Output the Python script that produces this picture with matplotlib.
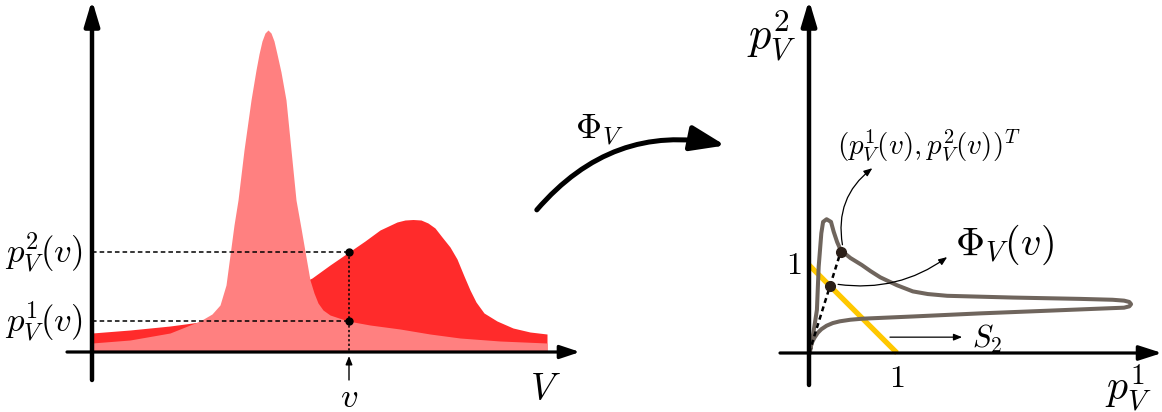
import matplotlib
matplotlib.use('Agg')
import matplotlib.pyplot as plt
from matplotlib.patches import FancyArrowPatch

plt.rcParams['mathtext.fontset'] = 'cm'

# ---- left panel: two densities over V (units: px offset from origin)
pink_x = [0, 38, 78, 108, 120, 128, 134, 138, 142, 146, 152, 159, 164, 167, 170, 173,
          176, 179, 182, 185, 189, 194, 199, 204, 209, 214, 218, 222, 226, 231, 238,
          256, 278, 308, 338, 368, 408, 455]
pink_y = [9, 12, 19, 31, 38, 47, 67, 97, 127, 152, 202, 252, 282, 298, 311, 319,
          322, 319, 311, 298, 280, 252, 202, 152, 124, 95, 72, 59, 49, 42, 37,
          31, 27, 23, 18, 14, 11, 9]

red_x = [0, 38, 78, 108, 148, 188, 220, 238, 257, 273, 288, 305, 313, 321, 329, 336,
         343, 350, 358, 365, 372, 378, 384, 392, 405, 421, 438, 455]
red_y = [19, 22, 26, 30, 41, 59, 74, 87, 100, 111, 122, 130, 132, 132.5, 132, 129,
         124, 115, 105, 93, 76, 62, 50, 39, 31, 24, 20, 18]

v_pos = 257
p1_v = 31
p2_v = 100

# ---- right panel: image of V under Phi_V (units: 1 = tick "1")
loop_x = [0.01, 0.05, 0.09, 0.11, 0.14, 0.16, 0.20, 0.25, 0.28, 0.32, 0.36, 0.47,
          0.60, 0.70, 0.81, 1.00, 1.18, 1.35, 1.57, 2.32, 3.08, 3.45, 3.58, 3.64,
          3.66, 3.64, 3.58, 3.45, 2.70, 1.94, 1.18, 0.61, 0.47, 0.35, 0.27, 0.20,
          0.14, 0.10, 0.06, 0.03, 0.01]
loop_y = [0.01, 0.23, 0.49, 0.98, 1.36, 1.49, 1.52, 1.49, 1.38, 1.26, 1.17, 1.08,
          1.00, 0.93, 0.86, 0.77, 0.70, 0.67, 0.65, 0.63, 0.615, 0.605, 0.595, 0.58,
          0.555, 0.53, 0.515, 0.51, 0.48, 0.45, 0.415, 0.39, 0.378, 0.36, 0.34, 0.31,
          0.27, 0.23, 0.17, 0.11, 0.03]
phi_pt = (0.36, 1.15)
simplex_pt = (0.24, 0.76)
simplex_x = [0, 1]
simplex_y = [1, 0]

W, H = 1162, 412
fig = plt.figure(figsize=(W / 100, H / 100), dpi=100)

ax1 = fig.add_axes([0, 0, 1, 1])
ax1.set_xlim(-92, W - 92)
ax1.set_ylim(352 - H, 352)
ax1.axis('off')

ax2 = fig.add_axes([0, 0, 1, 1])
ax2.patch.set_alpha(0)
ax2.set_xlim(-809 / 88, (W - 809) / 88)
ax2.set_ylim(-(H - 353) / 88, 353 / 88)
ax2.axis('off')

# densities
ax1.fill_between(red_x, red_y, 0, color='#ff2b2b', lw=0, zorder=1)
ax1.fill_between(pink_x, pink_y, 0, color='#ff8080', lw=0, zorder=2)

# axes with arrows
ax1.annotate('', xy=(0, 352), xytext=(0, -28),
             arrowprops=dict(arrowstyle='-|>,head_length=1.5,head_width=0.45', lw=3.2,
                             color='k', shrinkA=0, shrinkB=0, mutation_scale=10), zorder=5)
ax1.annotate('', xy=(488, 0), xytext=(-25, 0),
             arrowprops=dict(arrowstyle='-|>,head_length=1.2,head_width=0.4', lw=2.3,
                             color='k', shrinkA=0, shrinkB=0, mutation_scale=10), zorder=5)

# guides at v
ax1.plot([0, v_pos], [p2_v, p2_v], color='k', lw=1.1, dashes=(3, 2), zorder=3)
ax1.plot([0, v_pos], [p1_v, p1_v], color='k', lw=1.1, dashes=(3, 2), zorder=3)
ax1.plot([v_pos, v_pos], [p2_v, 0], color='k', lw=1.1, dashes=(1.5, 1.5), zorder=3)
ax1.plot([v_pos, v_pos], [p1_v, p2_v], 'o', color='k', ms=5, zorder=4)
ax1.annotate('', xy=(v_pos, -4), xytext=(v_pos, -28),
             arrowprops=dict(arrowstyle='-|>,head_length=0.5,head_width=0.2', lw=1,
                             color='k', shrinkA=0, shrinkB=0, mutation_scale=10))

ax1.text(-9, p2_v, r'$p_V^2(v)$', fontsize=25, ha='right', va='center')
ax1.text(-9, p1_v, r'$p_V^1(v)$', fontsize=25, ha='right', va='center')
ax1.text(v_pos, -45, r'$v$', fontsize=25, ha='center', va='center')
ax1.text(453, -38, r'$V$', fontsize=27, ha='center', va='center')

# Phi_V map arrow
fig.patches.append(FancyArrowPatch((443 + 92, 412 - 212), (636 + 92, 412 - 146),
                                   transform=None, connectionstyle='arc3,rad=-0.3',
                                   arrowstyle='-|>,head_length=1.5,head_width=0.55',
                                   mutation_scale=14, lw=3.6, color='k'))
ax1.text(508, 222, r'$\Phi_V$', fontsize=26, ha='center', va='center')

# right panel axes
ax2.annotate('', xy=(0, 353 / 88), xytext=(0, -32 / 88),
             arrowprops=dict(arrowstyle='-|>,head_length=1.5,head_width=0.45', lw=3.2,
                             color='k', shrinkA=0, shrinkB=0, mutation_scale=10), zorder=5)
ax2.annotate('', xy=((W - 809) / 88, 0), xytext=(-29 / 88, 0),
             arrowprops=dict(arrowstyle='-|>,head_length=1.4,head_width=0.45', lw=2.3,
                             color='k', shrinkA=0, shrinkB=0, mutation_scale=10), zorder=5)

ax2.plot(simplex_x, simplex_y, color='#ffc800', lw=3.8, solid_capstyle='butt', zorder=2)
ax2.plot(loop_x, loop_y, color='#6f655d', lw=2.9, solid_joinstyle='round', zorder=3)
ax2.plot([0, phi_pt[0]], [0, phi_pt[1]], color='k', lw=1.8, dashes=(2, 1.5), zorder=4)
ax2.plot([simplex_pt[0], phi_pt[0]], [simplex_pt[1], phi_pt[1]], 'o', color='#2b1f18',
         ms=7, zorder=5)

ax2.text(-0.17, 1.0, '$1$', fontsize=23, ha='center', va='center')
ax2.text(1.0, -0.29, '$1$', fontsize=23, ha='center', va='center')
ax2.text(-0.42, 3.60, r'$p_V^2$', fontsize=32, ha='center', va='center')
ax2.text(3.63, -0.40, r'$p_V^1$', fontsize=30, ha='center', va='center')

ax2.annotate('', xy=(0.72, 2.10), xytext=(phi_pt[0] + 0.02, phi_pt[1] + 0.08),
             arrowprops=dict(arrowstyle='-|>,head_length=0.5,head_width=0.2', lw=0.9,
                             color='k', shrinkA=0, shrinkB=0, mutation_scale=10,
                             connectionstyle='arc3,rad=-0.3'))
ax2.text(1.36, 2.36, r'$(p_V^1(v),p_V^2(v))^T$', fontsize=21, ha='center', va='center')

ax2.annotate('', xy=(1.57, 1.09), xytext=(simplex_pt[0] + 0.09, simplex_pt[1] + 0.02),
             arrowprops=dict(arrowstyle='-|>,head_length=0.5,head_width=0.2', lw=0.9,
                             color='k', shrinkA=0, shrinkB=0, mutation_scale=10,
                             connectionstyle='arc3,rad=0.2'))
ax2.text(2.22, 1.23, r'$\Phi_V(v)$', fontsize=29, ha='center', va='center')

ax2.annotate('', xy=(1.74, 0.18), xytext=(0.92, 0.18),
             arrowprops=dict(arrowstyle='-|>,head_length=0.5,head_width=0.2', lw=0.9,
                             color='k', shrinkA=0, shrinkB=0, mutation_scale=10))
ax2.text(1.85, 0.16, r'$S_2$', fontsize=22, ha='left', va='center')

fig.savefig('out.png', dpi=100)
